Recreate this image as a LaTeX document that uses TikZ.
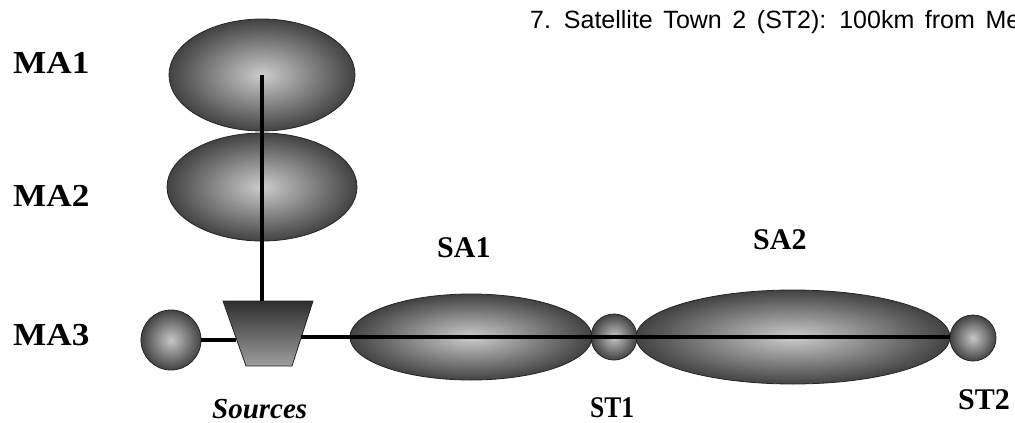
\documentclass[tikz,border=0pt]{standalone}
\usepackage{fontspec}
\setmainfont{Liberation Serif}
\newfontfamily\arialfont{Liberation Sans}
\usetikzlibrary{shapes.geometric}
\begin{document}
\begin{tikzpicture}[x=1pt,y=-1pt,
  blob/.style={ellipse, draw=black!85, line width=0.8pt, inner sep=0pt,
    shading=radial, inner color=black!20, outer color=black!74},
  ball/.style={circle, draw=black!85, line width=0.8pt, inner sep=0pt,
    shading=radial, inner color=black!22, outer color=black!74},
  lab/.style={anchor=base west, inner sep=0pt, font=\bfseries\fontsize{30}{30}\selectfont},
  wire/.style={line width=3.4pt, black}]
\useasboundingbox (0,0) rectangle (1015,423);
\clip (0,0) rectangle (1015,423);
\fill[white] (0,0) rectangle (1015,423);

% shapes
\node[blob, minimum width=186pt, minimum height=112pt] (ma1) at (262,75) {};
\node[blob, minimum width=190pt, minimum height=108pt] (ma2) at (262,187) {};
\node[ball, minimum size=60pt] (ball3) at (171,340) {};
\draw[draw=black!85, line width=0.8pt, top color=black!82, bottom color=black!38]
  (223,301) -- (313,301) -- (292,366) -- (246,366) -- cycle;
\coordinate (srcN) at (262,301);
\coordinate (srcW) at (236,340);
\coordinate (srcE) at (301,337);
\node[blob, minimum width=242pt, minimum height=86pt] (sa1) at (471,337) {};
\node[blob, minimum width=314pt, minimum height=94pt] (sa2) at (793,337) {};
\node[ball, minimum size=46pt] (st1) at (614,337) {};
\node[ball, minimum size=46pt] (st2) at (973,338) {};

% connectors
\draw[wire] (ma1.center) -- (ma1.center |- srcN);
\draw[wire] (ball3.east) -- (ball3.east -| srcW);
\draw[wire] (srcE |- sa1.center) -- (sa1.center -| st2.west);

% labels
\node[lab, xscale=1.1, font=\bfseries\fontsize{32}{32}\selectfont] (lma1) at (13,73) {MA1};
\node[lab, xscale=1.1, font=\bfseries\fontsize{32}{32}\selectfont] (lma2) at (13,206) {MA2};
\node[lab, xscale=1.1, font=\bfseries\fontsize{32}{32}\selectfont] (lma3) at (13,345) {MA3};
\node[lab] (lsa1) at (437,257) {SA1};
\node[lab] (lsa2) at (753,249) {SA2};
\node[lab, xscale=0.85] (lst1) at (590,417) {ST1};
\node[lab] (lst2) at (958,409) {ST2};
\node[anchor=base west, inner sep=0pt, font=\bfseries\itshape\fontsize{29}{29}\selectfont] (lsrc) at (212,418) {Sources};

\node[anchor=base west, inner sep=0pt, font=\arialfont\fontsize{25}{28}\selectfont] (note) at (530,28)
  {\spaceskip=10.6pt 7. Satellite Town 2 (ST2): 100km from Me};
\end{tikzpicture}
\end{document}
